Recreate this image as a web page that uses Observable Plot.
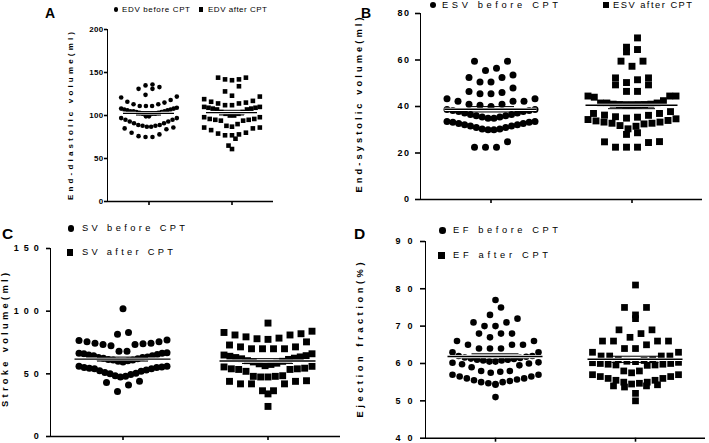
<!DOCTYPE html>
<html><head><meta charset="utf-8">
<script src="https://cdn.jsdelivr.net/npm/d3@7"></script>
<script src="https://cdn.jsdelivr.net/npm/@observablehq/plot@0.6"></script>
<style>
html,body{margin:0;padding:0;background:#fff;}
#wrap{position:relative;width:709px;height:443px;overflow:hidden;font-family:"Liberation Sans",Arial,sans-serif;color:#000;}
.panel{position:absolute;}
.t{position:absolute;white-space:nowrap;line-height:1;}
.sym{position:absolute;background:#000;}
.panel svg [aria-label^="y-axis"] path,.panel svg [aria-label^="y-axis"] line,
.panel svg [aria-label^="fx-axis"] path,.panel svg [aria-label^="fx-axis"] line{stroke-width:1.6px;}
</style></head><body><div id="wrap"></div>
<script>
// ---- data ----
const groupNames = ["before", "after"];

const edvBefore = [136,133,131,131,135, 124,121,116,113,111,111,111,113,115,118,122,
  109,108,107,106,105,105,105,106,107,108, 104,103,102,102,102,103,104,
  99,97,95,93,91,89,88,87,87,88,89,91,93,95,97,99, 85,86,84,78,80,75,75,76];
const edvAfter = [144,142,141,134,142,144, 128,122,116,115,117,119,123,
  114,112,110,109,108,107,107,108,109,110,112,114,
  104,102,100,98,96,95,94,94,95,96,98,100,102,104,
  90,88,86,85,83,80,78,77,87,86,73,77,79,65,61];

const esvBefore = [59.5,59.5,55.5,56.5,52.5,50.5,50.5,52.5,53.5,48,45.5,46,45.5,46.5,
  43.3,42.3,42.3,42.3,43.3,41,40.5,41,40,
  38.7,38.3,37.8,37.2,36.6,36,35.5,35,35,35.5,36,36.6,37.2,37.8,38.3,38.7,
  33.5,33.2,32.7,32.2,31.6,31,30.3,30,30,30.3,31,31.6,32.2,32.7,33.2,33.5,
  22.5,22.5,22.5,24.8];
const esvAfter = [69.5,64.5,63.5,65.5,59.5,57.3,59.5, 52.3,51.5,49.3,49.3,50.3,52.3,
  46.5,44,44.5,44.5,44.5,46.5,42.5,41.5,40.7, 41.5,41,40.8,40.6,40.6,40.8,41,41.5,
  37.8,37,36.3,35.6,35,34.4,33.8,33.3,32.8,32.5,32.8,33.3,34,34.7,35.4,36.2,37,
  31.8,28.7,28,30.4,31.5, 24.9,22.5,22.5,22.5,24.5,24.8];

const svBefore = [102,81.5,83,77,75.5,74.5,74.5,73.5,68,68,72.5,73.5,74,75.5,76.5,
  66.5,66.5,65.5,64.5,63.5,62.5,61.5,60.5,59.5,60,61,62,63,64.5,66,66.8,61,63,65,
  56,55.5,55,54.5,53,51,49.5,48,47.5,48.5,50.5,52.5,54,55,56,50,52,54,
  44,36,41,43];
const svAfter = [90.5,82,84,75.5,79.5,77.5,78,78.5,81,81,83,71.5,70,70,70,70,71.5,73,66,
  65,64,63.5,62.5,61.5,60.5,59.5,58.5,57.5,56.5,55.5,54.5,54,53.5,56,58,60,62,63,64.5,
  54,52,47.5,48,44.5,44,44,47.5,48,48.5,53.5,42,42,42,36.5,34,36.5,24];

const efBefore = [77,75,73,70,71,71,72,70,66,65,65,68,67,68,68,64,63,63,64,64,65,66,
  62,61.8,61.5,61.2,61,60.8,60.5,60.3,60,59.5,59,59.8,60.2,60.5,60.8,61,61.3,61.6,62,
  58,57.8,57,56.5,56,55.7,55.3,55,54.7,54.3,54.5,55,55.5,56,56.5,57,57.5,58, 51];
const efAfter = [81,75,75,73,72,69,67,66,66,66,66,68,69,64,63,65,64,63, 62,62,62,62,
  61,60.8,60.5,60.2,60,59.8,59.6,59.5,59.6,59.8,60,60.3,60.6,61, 58,58,57.5,
  57,56.5,56,55.5,55,54.7,54.3,54,53.7,54,54.5,55,55.5,56,56.5,57, 52,50];

const edvTicks = [0,50,100,150,200];
const esvTicks = [0,20,40,60,80];
const svTicks = [0,50,100,150];
const efTicks = [40,50,60,70,80,90];

const panelLetters = ["A","B","C","D"];
const yTitles = ["End-diastolic volume(ml)","End-systolic volume(ml)","Stroke volume(ml)","Ejection fraction(%)"];
const legendBefore = ["EDV before CPT","ESV before CPT","SV before CPT","EF before CPT"];
const legendAfter = ["EDV after CPT","ESV after CPT","SV after CPT","EF after CPT"];

// ---- helpers ----
const wrap = document.getElementById("wrap");
const ctx = document.createElement("canvas").getContext("2d");
const FF = '"Liberation Sans", Arial, sans-serif';
function measure(txt, size, weight){ ctx.font = `${weight} ${size}px ${FF}`; return ctx.measureText(txt).width; }

function text(txt, {x, cy, size, weight = "normal", width = null, rotate = false}) {
  const el = document.createElement("div");
  el.className = "t";
  el.textContent = txt;
  el.style.fontSize = size + "px";
  el.style.fontWeight = weight;
  let ls = 0;
  if (width != null) { ls = (width - measure(txt, size, weight)) / (txt.length - 1); el.style.letterSpacing = ls + "px"; }
  if (rotate) {
    el.style.left = x + "px"; el.style.top = cy + "px";
    el.style.paddingLeft = ls + "px";
    el.style.transform = "translate(-50%,-50%) rotate(-90deg)";
  } else {
    el.style.left = x + "px"; el.style.top = (cy - 0.49 * size) + "px";
  }
  wrap.appendChild(el);
}
function sym(kind, cx, cy, d) {
  const el = document.createElement("div");
  el.className = "sym";
  el.style.left = (cx - d/2) + "px"; el.style.top = (cy - d/2) + "px";
  el.style.width = d + "px"; el.style.height = d + "px";
  if (kind === "circle") el.style.borderRadius = "50%";
  wrap.appendChild(el);
}

const mean = a => d3.mean(a);
const sem = a => d3.deviation(a) / Math.sqrt(a.length);

// Scatter-dot layout: values binned into rows, each row spread from the centre,
// lowest values nearest the centre (offsets in pixels of the facet).
function rowLayout(values, g, {bin, origin, s0, wmax}) {
  const pts = values.map(v => ({g, v, off: 0}));
  const rows = d3.groups(pts, d => Math.floor((d.v - origin) / bin));
  for (const [, row] of rows) {
    row.sort((a, b) => a.v - b.v);
    const n = row.length;
    const s = n > 1 ? Math.min(s0, 2 * wmax / (n - 1)) : 0;
    const slots = d3.range(n).map(j => (j - (n - 1) / 2) * s)
      .sort((a, b) => Math.abs(a) - Math.abs(b) || a - b);
    row.forEach((d, j) => d.off = slots[j]);
  }
  return pts;
}

function panel(c) {
  const rows = rowLayout(c.before, "before", c.lay).concat(rowLayout(c.after, "after", c.lay));
  const y0 = c.domain[0];
  const fw = (c.w - c.mL - c.mR) / 2;
  const chart = Plot.plot({
    width: c.w, height: c.h,
    marginLeft: c.mL, marginRight: c.mR, marginTop: c.mT, marginBottom: c.mB,
    style: {background: "transparent", fontFamily: FF, fontSize: c.tf + "px", fontWeight: "bold",
            letterSpacing: c.tls + "px", color: "black", overflow: "visible"},
    facet: {data: rows, x: "g"},
    fx: {domain: groupNames, padding: 0, axis: "bottom", label: null, tickFormat: () => "", tickSize: 4},
    x: {domain: [-fw / 2, fw / 2], axis: null},
    y: {domain: c.domain, ticks: c.tickVals, tickFormat: c.tickFmt, tickSize: c.ts, tickPadding: c.tp, line: true, label: null},
    marks: [
      Plot.ruleY([y0], {stroke: "black", strokeWidth: 1.6}),
      Plot.dot(rows, {filter: d => d.g === "before", x: "off", y: "v", r: c.rc, symbol: "circle", fill: "black", stroke: "none"}),
      Plot.dot(rows, {filter: d => d.g === "after", x: "off", y: "v", r: c.rs, symbol: "square", fill: "black", stroke: "none"}),
      Plot.ruleY(rows, Plot.groupZ({y: mean}, {y: "v", stroke: "white", strokeWidth: 3.2, insetLeft: c.mi, insetRight: c.mi})),
      Plot.ruleY(rows, Plot.groupZ({y: mean}, {y: "v", stroke: "black", strokeWidth: 1.4, insetLeft: c.mi, insetRight: c.mi})),
      Plot.ruleY(rows, Plot.groupZ({y: a => mean(a) + sem(a)}, {y: "v", stroke: "black", strokeWidth: 1, insetLeft: c.si, insetRight: c.si})),
      Plot.ruleY(rows, Plot.groupZ({y: a => mean(a) - sem(a)}, {y: "v", stroke: "black", strokeWidth: 1, insetLeft: c.si, insetRight: c.si}))
    ]
  });
  const div = document.createElement("div");
  div.className = "panel";
  div.style.left = c.left + "px"; div.style.top = c.top + "px";
  div.appendChild(chart);
  wrap.appendChild(div);
}

// ---- panels ----
panel({before: edvBefore, after: edvAfter, left: 0, top: 0, w: 300, h: 215, mL: 106, mR: 27, mT: 29, mB: 14,
  domain: [0, 200], tickVals: edvTicks, tf: 8, tls: 0.3, ts: 3, tp: 1, rc: 2.3, rs: 2.6, mi: 16, si: 29,
  lay: {bin: 12, origin: 74.5, s0: 7, wmax: 28}});
panel({before: esvBefore, after: esvAfter, left: 355, top: 0, w: 354, h: 215, mL: 65, mR: 7, mT: 13, mB: 16,
  domain: [0, 80], tickVals: esvTicks, tf: 9, tls: 1.5, ts: 5, tp: 5, rc: 3.5, rs: 3.9, mi: 24.5, si: 47,
  lay: {bin: 5, origin: 0, s0: 11, wmax: 44}});
panel({before: svBefore, after: svAfter, left: 0, top: 215, w: 355, h: 228, mL: 50, mR: 15, mT: 33, mB: 7,
  domain: [0, 150], tickVals: svTicks, tf: 9, tls: 5, ts: 4, tp: 2.7, rc: 3.5, rs: 3.9, mi: 24.5, si: 47,
  lay: {bin: 10.5, origin: 46, s0: 11, wmax: 44}});
// the reference's top tick "90" sits at the end of the drawn axis (≈92.65 on its 10-per-37px spacing)
const efAxisTop = 92.65;
panel({before: efBefore, after: efAfter, left: 355, top: 215, w: 354, h: 228, mL: 70, mR: 4, mT: 26, mB: 5.3,
  domain: [40, efAxisTop], tickVals: efTicks.map(t => t === 90 ? efAxisTop : t), tickFmt: t => t > 85 ? "90" : String(t),
  tf: 9, tls: 7, ts: 5, tp: 1, rc: 3.3, rs: 3.8, mi: 22.5, si: 46.5,
  lay: {bin: 3, origin: 0.5, s0: 11, wmax: 43}});

// ---- panel letters ----
text(panelLetters[0], {x: 45, cy: 13.3, size: 14, weight: "bold"});
text(panelLetters[1], {x: 361, cy: 12.5, size: 14, weight: "bold"});
text(panelLetters[2], {x: 2, cy: 234, size: 15.5, weight: "bold"});
text(panelLetters[3], {x: 354, cy: 234, size: 15.5, weight: "bold"});

// ---- y titles ----
text(yTitles[0], {x: 71, cy: 116, size: 8, weight: "bold", width: 168, rotate: true});
text(yTitles[1], {x: 360, cy: 104.5, size: 9.3, weight: "bold", width: 175, rotate: true});
text(yTitles[2], {x: 6, cy: 340, size: 9.3, weight: "bold", width: 134, rotate: true});
text(yTitles[3], {x: 361, cy: 339.5, size: 9.3, weight: "bold", width: 155, rotate: true});

// ---- legends ----
sym("circle", 116, 9.5, 4.3); text(legendBefore[0], {x: 122, cy: 9.5, size: 8, width: 68});
sym("square", 201, 9.5, 4.3); text(legendAfter[0], {x: 208, cy: 9.5, size: 8, width: 59});
sym("circle", 433.3, 5.2, 6); text(legendBefore[1], {x: 442, cy: 5.2, size: 9.3, width: 116});
sym("square", 605.5, 5.2, 6); text(legendAfter[1], {x: 613, cy: 5.2, size: 9.3, width: 79});
sym("circle", 71, 228.3, 6.5); text(legendBefore[2], {x: 82, cy: 228.3, size: 9.3, width: 103});
sym("square", 70, 252.3, 6.5); text(legendAfter[2], {x: 82, cy: 252.3, size: 9.3, width: 91});
sym("circle", 442.3, 230.7, 6.5); text(legendBefore[3], {x: 453, cy: 230.7, size: 9.3, width: 105});
sym("square", 441.7, 255.7, 6.5); text(legendAfter[3], {x: 453, cy: 255.7, size: 9.3, width: 95});
</script></body></html>
